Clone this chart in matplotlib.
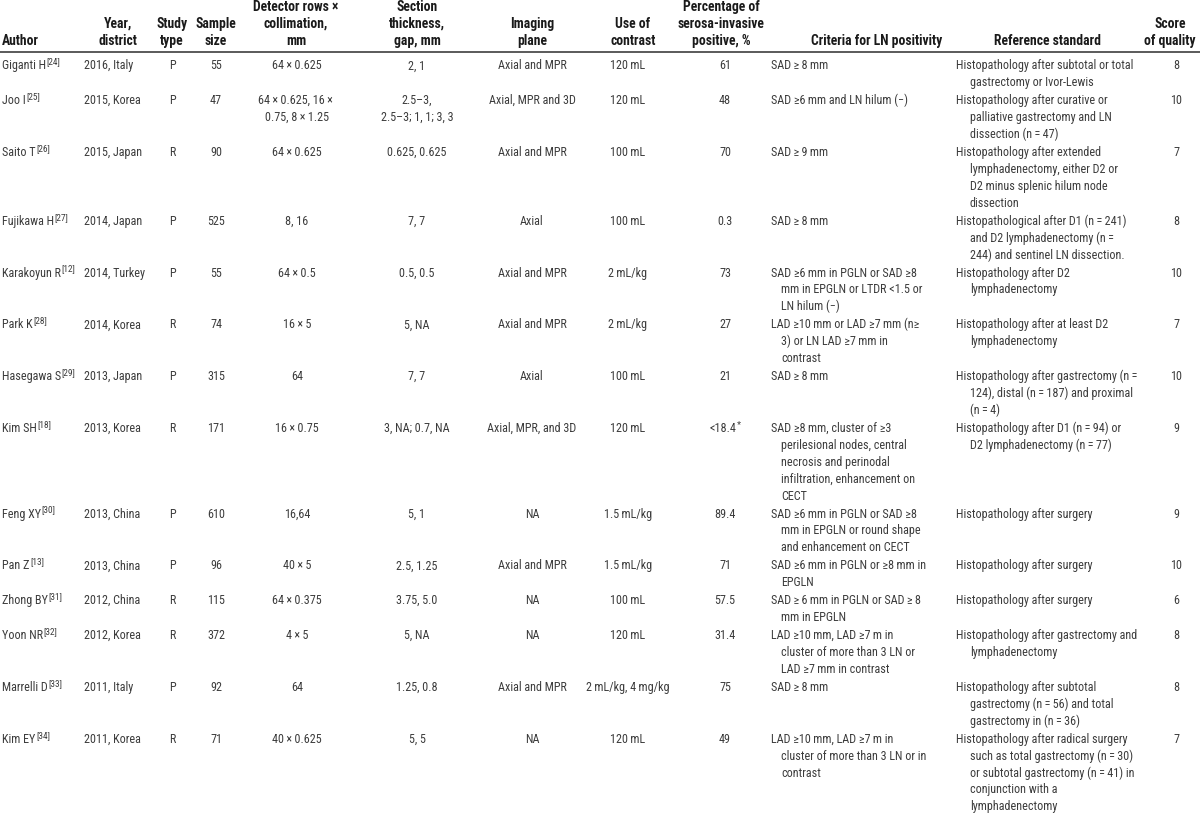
import matplotlib
matplotlib.use("Agg")
import matplotlib.pyplot as plt
from matplotlib import font_manager

# ---------------- data ----------------
headers = ["Author", "Year,\ndistrict", "Study\ntype", "Sample\nsize",
           "Detector rows \u00d7\ncollimation,\nmm", "Section\nthickness,\ngap, mm",
           "Imaging\nplane", "Use of\ncontrast", "Percentage of\nserosa-invasive\npositive, %",
           "Criteria for LN positivity", "Reference standard", "Score\nof quality"]

authors = ["Giganti H^[24]", "Joo I^[25]", "Saito T^[26]", "Fujikawa H^[27]",
           "Karakoyun R^[12]", "Park K^[28]", "Hasegawa S^[29]", "Kim SH^[18]",
           "Feng XY^[30]", "Pan Z^[13]", "Zhong BY^[31]", "Yoon NR^[32]",
           "Marrelli D^[33]", "Kim EY^[34]"]
years_districts = ["2016, Italy", "2015, Korea", "2015, Japan", "2014, Japan",
                   "2014, Turkey", "2014, Korea", "2013, Japan", "2013, Korea",
                   "2013, China", "2013, China", "2012, China", "2012, Korea",
                   "2011, Italy", "2011, Korea"]
study_types = ["P", "P", "R", "P", "P", "R", "P", "R", "P", "P", "R", "R", "P", "R"]
sample_sizes = [55, 47, 90, 525, 55, 74, 315, 171, 610, 96, 115, 372, 92, 71]
X = "\u2009\u00d7\u2009"
detectors = ["64" + X + "0.625", "64" + X + "0.625, 16" + X + "\n0.75, 8" + X + "1.25",
             "64" + X + "0.625", "8, 16", "64" + X + "0.5", "16" + X + "5", "64",
             "16" + X + "0.75", "16,64", "40" + X + "5", "64" + X + "0.375",
             "4" + X + "5", "64", "40" + X + "0.625"]
sections = ["2, 1", "2.5\u20133,\n2.5\u20133; 1, 1; 3, 3", "0.625, 0.625", "7, 7",
            "0.5, 0.5", "5, NA", "7, 7", "3, NA; 0.7, NA", "5, 1", "2.5, 1.25",
            "3.75, 5.0", "5, NA", "1.25, 0.8", "5, 5"]
planes = ["Axial and MPR", "Axial, MPR and 3D", "Axial and MPR", "Axial",
          "Axial and MPR", "Axial and MPR", "Axial", "Axial, MPR, and 3D", "NA",
          "Axial and MPR", "NA", "NA", "Axial and MPR", "NA"]
T = "\u2009"
contrasts = ["120" + T + "mL", "120" + T + "mL", "100" + T + "mL", "100" + T + "mL",
             "2" + T + "mL/kg", "2" + T + "mL/kg", "100" + T + "mL", "120" + T + "mL",
             "1.5" + T + "mL/kg", "1.5" + T + "mL/kg", "100" + T + "mL", "120" + T + "mL",
             "2" + T + "mL/kg, 4" + T + "mg/kg", "120" + T + "mL"]
percentages = ["61", "48", "70", "0.3", "73", "27", "21", "<18.4^*", "89.4", "71",
               "57.5", "31.4", "75", "49"]
G = "\u2265"
criteria = [
    ["SAD" + T + G + T + "8" + T + "mm"],
    ["SAD " + G + "6" + T + "mm and LN hilum (\u2212)"],
    ["SAD" + T + G + T + "9" + T + "mm"],
    ["SAD" + T + G + T + "8" + T + "mm"],
    ["SAD " + G + "6" + T + "mm in PGLN or SAD " + G + "8", "mm in EPGLN or LTDR <1.5 or",
     "LN hilum (\u2212)"],
    ["LAD " + G + "10" + T + "mm or LAD " + G + "7" + T + "mm (n" + G,
     "3) or LN LAD " + G + "7" + T + "mm in", "contrast"],
    ["SAD" + T + G + T + "8" + T + "mm"],
    ["SAD " + G + "8" + T + "mm, cluster of " + G + "3", "perilesional nodes, central",
     "necrosis and perinodal", "infiltration, enhancement on", "CECT"],
    ["SAD " + G + "6" + T + "mm in PGLN or SAD " + G + "8", "mm in EPGLN or round shape",
     "and enhancement on CECT"],
    ["SAD " + G + "6" + T + "mm in PGLN or " + G + "8" + T + "mm in", "EPGLN"],
    ["SAD" + T + G + T + "6" + T + "mm in PGLN or SAD" + T + G + T + "8", "mm in EPGLN"],
    ["LAD " + G + "10" + T + "mm, LAD " + G + "7" + T + "m in", "cluster of more than 3 LN or",
     "LAD " + G + "7" + T + "mm in contrast"],
    ["SAD" + T + G + T + "8" + T + "mm"],
    ["LAD " + G + "10" + T + "mm, LAD " + G + "7" + T + "m in",
     "cluster of more than 3 LN or in", "contrast"],
]
E = T + "=" + T
references = [
    ["Histopathology after subtotal or total", "gastrectomy or Ivor-Lewis"],
    ["Histopathology after curative or", "palliative gastrectomy and LN",
     "dissection (n" + E + "47)"],
    ["Histopathology after extended", "lymphadenectomy, either D2 or",
     "D2 minus splenic hilum node", "dissection"],
    ["Histopathological after D1 (n" + E + "241)", "and D2 lymphadenectomy (n" + T + "=",
     "244) and sentinel LN dissection."],
    ["Histopathology after D2", "lymphadenectomy"],
    ["Histopathology after at least D2", "lymphadenectomy"],
    ["Histopathology after gastrectomy (n" + T + "=", "124), distal (n" + E + "187) and proximal",
     "(n" + E + "4)"],
    ["Histopathology after D1 (n" + E + "94) or", "D2 lymphadenectomy (n" + E + "77)"],
    ["Histopathology after surgery"],
    ["Histopathology after surgery"],
    ["Histopathology after surgery"],
    ["Histopathology after gastrectomy and", "lymphadenectomy"],
    ["Histopathology after subtotal", "gastrectomy (n" + E + "56) and total",
     "gastrectomy in (n" + E + "36)"],
    ["Histopathology after radical surgery", "such as total gastrectomy (n" + E + "30)",
     "or subtotal gastrectomy (n" + E + "41) in", "conjunction with a", "lymphadenectomy"],
]
scores = [8, 10, 7, 8, 10, 7, 10, 9, 9, 10, 6, 8, 8, 7]

# ---------------- font choice ----------------
entries = font_manager.fontManager.ttflist
names = {f.name for f in entries}
main_font, STRETCH = None, "normal"
for cand in ["Liberation Sans Narrow", "Roboto Condensed", "Open Sans Condensed",
             "Noto Sans Condensed", "Arial Narrow", "DejaVu Sans Condensed"]:
    if cand in names:
        main_font = cand
        break
if main_font is None:
    for fam in ["Roboto", "Noto Sans", "Open Sans"]:
        if any(f.name == fam and str(f.stretch) in ("condensed", "extra-condensed",
                                                     "semi-condensed")
               for f in entries):
            main_font = fam
            STRETCH = "condensed"
            break
if main_font is None:
    main_font = "Liberation Sans"
FAM = [main_font, "DejaVu Sans"]
BODY = "#3c3c3c"
HEAD = "#1a1a1a"

fig = plt.figure(figsize=(12, 8.14), dpi=100)
ax = fig.add_axes([0, 0, 1, 1])
ax.set_xlim(0, 1200)
ax.set_ylim(814, 0)
ax.axis("off")
renderer = fig.canvas.get_renderer()


def width_px(s, size, weight="normal"):
    t = ax.text(0, 0, s, fontsize=size, family=FAM, fontstretch=STRETCH, fontweight=weight)
    w = t.get_window_extent(renderer=renderer).width
    t.remove()
    return w


# calibrate sizes so that text widths match the reference table
FS = 10 * 176 / width_px("Histopathology after subtotal or total", 10)
HFS = 10 * 107 / width_px("Reference standard", 10, "bold")
SFS = FS * 0.78
BOFF = 0.36 * FS * 100 / 72
HBOFF = 0.36 * HFS * 100 / 72


def draw(x, yc, s, ha="center"):
    """Draw s with first-line centre yc; text after '^' is a superscript."""
    main, sup = (s.split("^", 1) + [""])[:2] if "^" in s else (s, "")
    y = yc + BOFF
    if sup and ha == "center":
        x = x - width_px(sup, SFS) / 2
    t = ax.text(x, y, main, ha=ha, va="baseline", fontsize=FS, family=FAM,
                fontstretch=STRETCH, color=BODY)
    if sup:
        bb = t.get_window_extent(renderer=renderer)
        xr = ax.transData.inverted().transform((bb.x1, bb.y0))[0]
        ax.text(xr + 0.6, y - 0.42 * FS * 100 / 72, sup, ha="left", va="baseline",
                fontsize=SFS, family=FAM, fontstretch=STRETCH, color=BODY)


# header
hcols = [(2, "left"), (118, "center"), (172, "center"), (216, "center"), (296, "center"),
         (417, "center"), (532, "center"), (633, "center"), (721, "center"),
         (877, "center"), (1048, "center"), (1170, "center")]
HPITCH = 17.0
for (x, ha), h in zip(hcols, headers):
    lines = h.split("\n")
    for k, ln in enumerate(reversed(lines)):
        ax.text(x, 40 + HBOFF - k * HPITCH, ln, ha=ha, va="baseline", fontsize=HFS,
                family=FAM, fontstretch=STRETCH, color=HEAD, fontweight="bold")
ax.plot([0, 1200], [52, 52], color="#5a5a5a", lw=1.4, solid_capstyle="butt")

# body
PITCH = 16.9
PAD = 1.1
yc = 65
for i in range(len(authors)):
    det_lines = detectors[i].split("\n")
    sec_lines = sections[i].split("\n")
    n = max(len(det_lines), len(sec_lines), len(criteria[i]), len(references[i]))
    draw(2, yc, authors[i], ha="left")
    draw(84, yc, years_districts[i], ha="left")
    draw(172, yc, study_types[i])
    draw(216, yc, str(sample_sizes[i]))
    for k, ln in enumerate(det_lines):
        draw(297, yc + k * PITCH, ln)
    for k, ln in enumerate(sec_lines):
        draw(417, yc + k * PITCH, ln)
    draw(532, yc, planes[i])
    draw(628, yc, contrasts[i])
    draw(725, yc, percentages[i])
    for k, ln in enumerate(criteria[i]):
        draw(771 + (10 if k else 0), yc + k * PITCH, ln, ha="left")
    for k, ln in enumerate(references[i]):
        draw(956 + (14 if k else 0), yc + k * PITCH, ln, ha="left")
    draw(1176, yc, str(scores[i]))
    yc += n * PITCH + PAD

fig.savefig("out.png", dpi=100, facecolor="white")
